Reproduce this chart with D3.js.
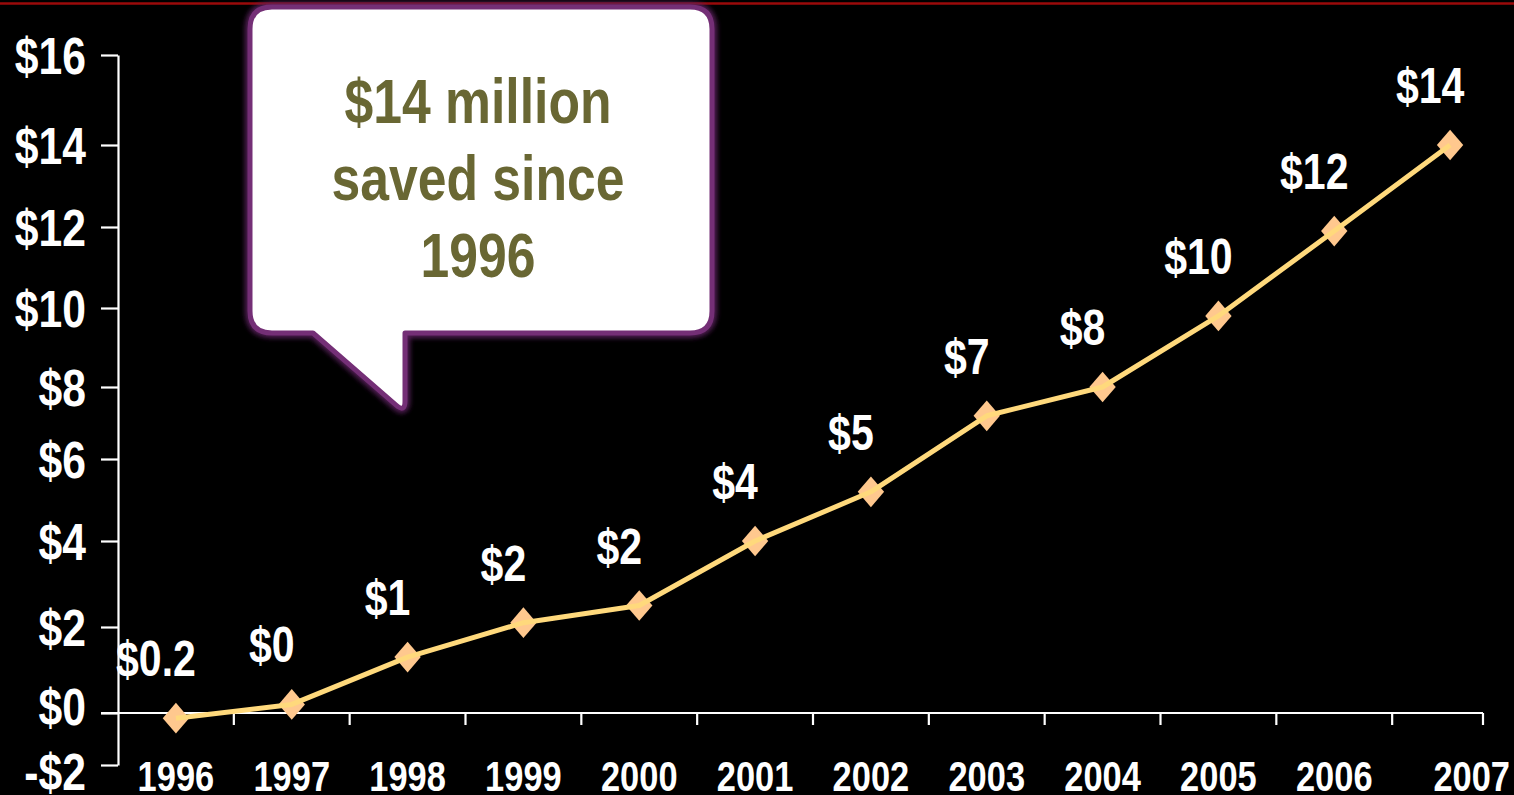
<!DOCTYPE html>
<html>
<head>
<meta charset="utf-8">
<script src="https://cdn.jsdelivr.net/npm/d3@7"></script>
<style>
  html, body { margin: 0; padding: 0; background: #000; overflow: hidden; }
  svg { display: block; }
  .cond { font-family: "Liberation Sans", Arial, sans-serif; font-weight: bold; }
</style>
</head>
<body>
<svg id="chart" width="1514" height="795"></svg>
<script>
// Cumulative savings, millions of dollars
const years = ["1996","1997","1998","1999","2000","2001","2002","2003","2004","2005","2006","2007"];
const savings = [-0.2, 0.2, 1.3, 2.1, 2.5, 4.0, 5.2, 7.2, 8.0, 9.8, 11.9, 14.0];
const valueLabels = ["$0.2","$0","$1","$2","$2","$4","$5","$7","$8","$10","$12","$14"];
const yTickValues = [-2, 0, 2, 4, 6, 8, 10, 12, 14, 16];
const yTickLabels = ["-$2","$0","$2","$4","$6","$8","$10","$12","$14","$16"];
const calloutLines = ["$14 million", "saved since", "1996"];

const W = 1514, H = 795;
const SQUEEZE = 0.82;   // horizontal squeeze giving a narrow bold face
const svg = d3.select("#chart");

// place a text at (px, py) drawn with condensed glyphs
function placeCondensed(sel, px, py) {
  sel.attr("x", null).attr("y", null)
     .attr("transform", (d, i) => `translate(${px(d, i)},${py(d, i)}) scale(${SQUEEZE},1)`);
}

svg.append("rect").attr("width", W).attr("height", H).attr("fill", "#000");
// thin rule along the top edge
svg.append("line").attr("x1", 0).attr("x2", W).attr("y1", 3.5).attr("y2", 3.5)
  .attr("stroke", "#9a0a0a").attr("stroke-width", 2.5);

const axisLeftX = 118, axisRightX = 1483;

const x = d3.scaleBand().domain(years).range([axisLeftX, 1508]).padding(0);
const cx = d => x(d) + x.bandwidth() / 2;

// value axis with uneven gridline spacing
const y = d3.scaleLinear()
  .domain(yTickValues)
  .range([765, 713, 627, 541, 459, 387, 308, 227, 145, 55]);

// Y axis (lines from d3.axisLeft, labels set in condensed type)
const tickLen = 17, tickPad = 15, yFont = 52;
const yAxis = d3.axisLeft(y)
  .tickValues(yTickValues)
  .tickSize(tickLen)
  .tickSizeOuter(0)
  .tickFormat("");

const gy = svg.append("g").attr("transform", `translate(${axisLeftX},0)`).call(yAxis);
gy.select(".domain").attr("stroke", "#fff").attr("stroke-width", 2.2);
gy.selectAll(".tick line").attr("stroke", "#fff").attr("stroke-width", 2.2);
gy.selectAll(".tick text").remove();

// spread the two closely spaced bottom labels apart so they don't collide
const minGap = yFont * 1.25;
const labelY = yTickValues.map(v => y(v));
const gap01 = labelY[0] - labelY[1];
if (gap01 < minGap) {
  const push = (minGap - gap01) / 2;
  labelY[0] += push;
  labelY[1] -= push;
}

svg.append("g").selectAll("text").data(yTickLabels).join("text")
  .attr("class", "cond")
  .attr("fill", "#fff")
  .attr("font-size", yFont)
  .attr("text-anchor", "end")
  .attr("dy", "0.36em")
  .text(d => d)
  .call(placeCondensed, () => axisLeftX - tickLen - tickPad, (d, i) => labelY[i]);

// X axis along the zero line
const y0 = y(0);
const gx = svg.append("g");
gx.append("line").attr("x1", axisLeftX - tickLen).attr("x2", axisRightX)
  .attr("y1", y0).attr("y2", y0).attr("stroke", "#fff").attr("stroke-width", 2.2);
const xTickPos = years.slice(1).map(d => x(d)).concat([axisRightX]);
gx.selectAll("line.xt").data(xTickPos).join("line").attr("class", "xt")
  .attr("x1", d => d).attr("x2", d => d)
  .attr("y1", y0).attr("y2", y0 + 12)
  .attr("stroke", "#fff").attr("stroke-width", 2.2);
gx.selectAll("text.yr").data(years).join("text").attr("class", "yr cond")
  .attr("text-anchor", (d, i) => i === years.length - 1 ? "end" : "middle")
  .attr("fill", "#fff")
  .attr("font-size", 42)
  .text(d => d)
  .call(placeCondensed, (d, i) => i === years.length - 1 ? W - 4 : cx(d), () => 791);

// markers, then the line over them
const pts = years.map((d, i) => ({ year: d, v: savings[i], label: valueLabels[i] }));
const diamond = d3.symbol().type(d3.symbolSquare).size(470);
svg.append("g").selectAll("path").data(pts).join("path")
  .attr("d", diamond)
  .attr("transform", d => `translate(${cx(d.year)},${y(d.v)}) scale(0.86,1) rotate(45)`)
  .attr("fill", "#ffc88e");

const line = d3.line().x(d => cx(d.year)).y(d => y(d.v));
svg.append("path").datum(pts)
  .attr("d", line)
  .attr("fill", "none")
  .attr("stroke", "#ffd97c")
  .attr("stroke-width", 5)
  .attr("stroke-linejoin", "round");

// value labels
svg.append("g").selectAll("text").data(pts).join("text")
  .attr("class", "cond")
  .attr("text-anchor", "middle")
  .attr("fill", "#fff")
  .attr("font-size", 50)
  .text(d => d.label)
  .call(placeCondensed, d => cx(d.year) - 20, d => y(d.v) - 42);

// speech-bubble callout
const defs = svg.append("defs");
defs.append("filter").attr("id", "glow").attr("x", "-10%").attr("y", "-10%").attr("width", "120%").attr("height", "120%")
  .append("feGaussianBlur").attr("stdDeviation", 2.5);

const bubble = "M272,7 H690 Q712,7 712,29 V311 Q712,333 690,333 H405 V401 Q405,413 396,405 L313,333 H272 Q250,333 250,311 V29 Q250,7 272,7 Z";
svg.append("path").attr("d", bubble).attr("fill", "none")
  .attr("stroke", "#5c205e").attr("stroke-width", 10).attr("filter", "url(#glow)").attr("opacity", 0.9);
svg.append("path").attr("d", bubble).attr("fill", "#fff")
  .attr("stroke", "#742f76").attr("stroke-width", 5).attr("stroke-linejoin", "round");

svg.append("g").selectAll("text").data(calloutLines).join("text")
  .attr("class", "cond")
  .attr("text-anchor", "middle")
  .attr("fill", "#696733")
  .attr("font-size", 63)
  .text(d => d)
  .call(placeCondensed, () => 478, (d, i) => 123 + i * 77);
</script>
</body>
</html>
